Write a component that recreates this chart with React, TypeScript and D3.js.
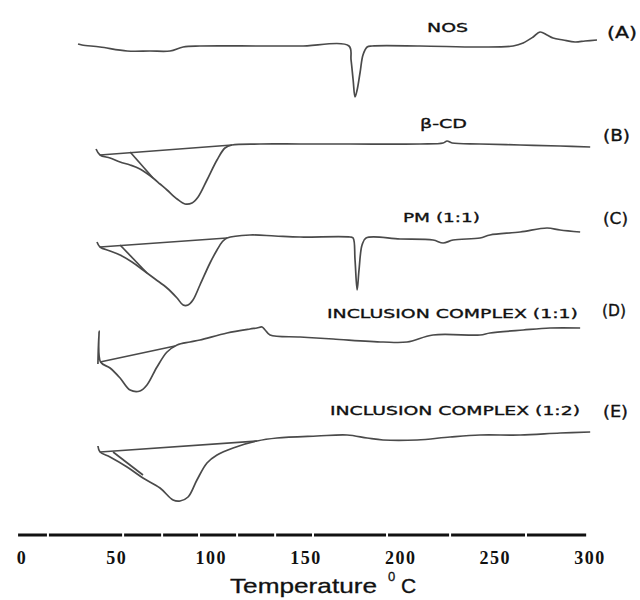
import * as d3 from "d3";

// Temperature (°C) and heat flow (a.u., relative to each trace's own baseline)
const tempA = [29.6, 31.7, 41.2, 55.5, 67.6, 78.2, 85.1, 94.0, 125.8, 146.9, 172.7, 173.8, 174.9, 175.9, 177.0, 178.6, 180.1, 182.3, 184.9, 210.2, 241.9, 259.4, 264.7, 270.0, 273.6, 277.3, 280.5, 285.8, 292.1, 297.4, 303.7];
const flowA = [0.5, 0.25, -0.25, -1.25, -1.25, -1.25, -0.25, 0, 0, 0, 0, -3.5, -8.5, -12.75, -11, -6.5, -2.25, -0.25, 0, 0, -0.25, 0, 0.75, 2.25, 3.5, 2.75, 2, 1.5, 1, 1.25, 1.5];

const tempB = [39.1, 41.2, 46.5, 51.8, 57.1, 62.3, 69.2, 72.9, 76.6, 81.9, 86.1, 89.8, 93.0, 97.7, 103.0, 107.2, 110.9, 125.7, 146.9, 173.3, 210.2, 222.4, 224.5, 227.2, 241.9, 263.1, 284.2, 300.1];
const flowB = [-1, -2.5, -3.25, -4.25, -5, -6, -8.25, -9.75, -11.25, -13.5, -14.75, -14.5, -13, -8.75, -3.75, -0.75, 0, 0.25, 0.25, 0.25, 0.25, 0.5, 1, 0.5, 0.25, 0, -0.25, -0.5];

const tempC = [39.6, 41.2, 46.5, 51.8, 58.1, 63.9, 70.3, 76.6, 81.9, 85.1, 87.7, 90.3, 94.0, 99.3, 103.0, 105.7, 108.3, 120.4, 133.6, 146.9, 173.3, 174.9, 175.9, 177.0, 178.0, 179.6, 181.7, 199.7, 217.1, 222.4, 227.7, 241.9, 247.2, 263.1, 277.3, 284.2, 294.8];
const flowC = [-1, -2.25, -3.25, -4.25, -6, -8, -10.25, -12.5, -15, -16.75, -16.75, -15.5, -11.75, -6.25, -3, -1, 0, 0.75, 0.5, 0.25, 0.25, 0, -5.5, -13, -8, -1.75, 0, -0.25, -0.5, -1.25, -0.5, 0, 0.75, 1.5, 2.5, 2, 1.5];

const tempD = [40.1, 40.7, 41.5, 46.5, 51.8, 57.1, 62.3, 66.0, 71.3, 76.6, 81.9, 88.7, 94.0, 108.3, 120.4, 124.1, 126.8, 128.4, 131.0, 146.9, 164.3, 190.7, 203.4, 217.1, 241.9, 247.2, 264.7, 278.9, 294.8];
const flowD = [-6.75, 1.5, -6.25, -7.75, -10.25, -13.25, -13.5, -12, -7.5, -3.75, -2, -1.25, -0.75, 1, 2, 2.25, 2.5, 1.75, 0.5, 0, -0.5, -1.25, -1.25, 0.5, 0.5, 1, 1.75, 2.25, 2.25];

const tempE = [40.1, 41.2, 46.5, 55.5, 63.9, 72.9, 79.8, 83.5, 87.7, 92.4, 97.7, 103.0, 111.5, 124.1, 134.7, 155.8, 171.7, 182.3, 190.7, 208.7, 226.1, 241.9, 263.1, 284.2, 300.1];
const flowE = [-1.5, -3, -4.25, -6.75, -9.5, -12, -15, -15.25, -14.25, -10, -5.75, -3.75, -2, -0.25, 0.5, 1, 1.25, 0.5, 0, 0, 0.75, 1.25, 1.25, 1.75, 2];

// integration baselines and onset tangents drawn on the traces: [t0, t1], [v0, v1]
const baseT = [[41.2, 110.9], [41.2, 108.3], [41.2, 80.8], [41.2, 124.1]];
const baseV = [[-2.5, 0], [-2.25, 0], [-6.25, -2.25], [-3, -0.25]];
const baseOf = [1, 2, 3, 4];
const tanT = [[57.1, 69.2], [51.8, 66.0], [48.1, 63.9]];
const tanV = [[-1.75, -8.25], [-1.75, -8.75], [-3, -8.75]];
const tanOf = [1, 2, 4];

const traceNames = ["NOS", "β-CD", "PM (1:1)", "INCLUSION COMPLEX (1:1)", "INCLUSION COMPLEX (1:2)"];
const traceTags = ["(A)", "(B)", "(C)", "(D)", "(E)"];
const offsets = [123.5, 98.75, 75.5, 50.75, 25];

const xTicks = [0, 50, 100, 150, 200, 250, 300];
// scan breaks in the printed axis rule
const axisBreaks = [-2.6, 13.7, 53.4, 74, 93.5, 113.6, 133.7, 153.7, 192.8, 226.1, 266.2, 298.5];

const temps = [tempA, tempB, tempC, tempD, tempE];
const flows = [flowA, flowB, flowC, flowD, flowE];

// label placement: [x, baseline, width]
const nameBox = [[427, 32, 41], [420, 128, 47], [403, 222, 77], [327, 318, 251], [330, 415, 250]];
const tagBox = [[607, 38, 30], [603, 141, 27], [603, 224, 25], [602, 316, 24], [603, 417, 25]];

export default function App() {
  const W = 640, H = 600;
  const x = d3.scaleLinear().domain([0, 300]).range([22, 590]);
  const y = d3.scaleLinear().domain([0, 135]).range([540, 0]);
  const stroke = "#4a4a4a";

  const trace = (i: number) =>
    d3.line<number>()
      .x((_, k) => x(temps[i][k]))
      .y((v) => y(offsets[i] + v))
      .curve(d3.curveCatmullRom.alpha(0.5))(flows[i]) || "";

  const seg = (t: number[], v: number[], off: number) =>
    d3.line<number>().x((_, k) => x(t[k])).y((d) => y(off + d))(v) || "";

  const axisY = 535;
  const sans = "'Liberation Sans', Arial, sans-serif";

  return (
    <div style={{ position: "absolute", left: 0, top: 0 }}>
      <svg width={W} height={H} style={{ display: "block", background: "#fff" }}>
        <g fill="none" stroke={stroke} strokeWidth={1.7} strokeLinejoin="round">
          {temps.map((_, i) => <path key={i} d={trace(i)} />)}
          {baseT.map((t, i) => <path key={"b" + i} d={seg(t, baseV[i], offsets[baseOf[i]])} />)}
          {tanT.map((t, i) => <path key={"t" + i} d={seg(t, tanV[i], offsets[tanOf[i]])} />)}
        </g>

        {/* axis rule, printed in pieces */}
        <g stroke="#111" strokeWidth={3}>
          {axisBreaks.slice(1).map((b, i) => (
            <line key={i} x1={x(axisBreaks[i]) + 1} x2={x(b) - 1} y1={axisY} y2={axisY} />
          ))}
        </g>
        <g fontFamily="'Liberation Serif', serif" fontWeight="bold" fontSize={18} fill="#111" textAnchor="middle" letterSpacing={1.5}>
          {xTicks.map((t) => (
            <text key={t} x={x(t)} y={564}>{t}</text>
          ))}
        </g>
        <text x={230} y={593} fontFamily={sans} fontSize={21} fill="#111" stroke="#111" strokeWidth={0.3} textLength={147} lengthAdjust="spacingAndGlyphs">Temperature</text>
        <text x={388} y={581} fontFamily={sans} fontSize={13} fill="#111" stroke="#111" strokeWidth={0.3}>0</text>
        <text x={401} y={593} fontFamily={sans} fontSize={21} fill="#111" stroke="#111" strokeWidth={0.3}>C</text>

        <g fontFamily="'DejaVu Sans', sans-serif" fontSize={13} fill="#111" stroke="#111" strokeWidth={0.35}>
          {traceNames.map((n, i) => (
            <text key={n} x={nameBox[i][0]} y={nameBox[i][1]} textLength={nameBox[i][2]} lengthAdjust="spacingAndGlyphs">{n}</text>
          ))}
          {traceTags.map((n, i) => (
            <text key={n} x={tagBox[i][0]} y={tagBox[i][1]} fontSize={16} textLength={tagBox[i][2]} lengthAdjust="spacingAndGlyphs">{n}</text>
          ))}
        </g>
      </svg>
    </div>
  );
}
